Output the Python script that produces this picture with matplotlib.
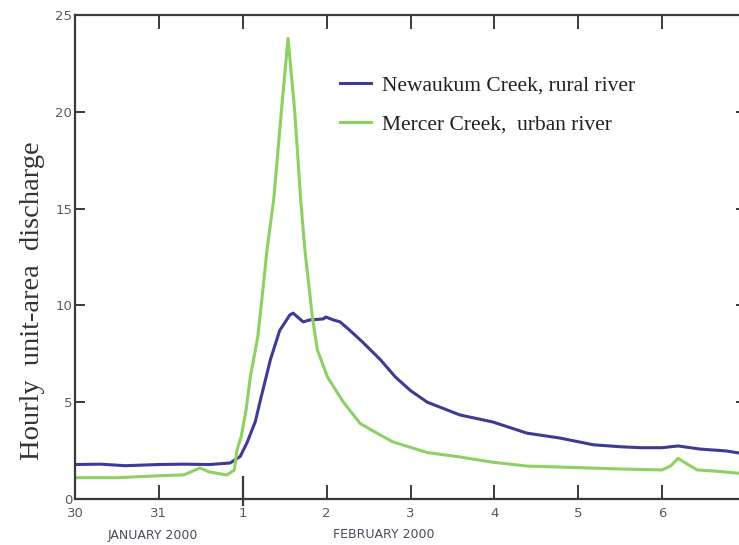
import matplotlib as mpl
import matplotlib.pyplot as plt
import numpy as np

# Time in days after 30 January 2000, 00:00
rural_days = [0.0, 0.3, 0.6, 0.99, 1.3, 1.6, 1.85, 1.97, 2.05, 2.15, 2.21, 2.33,
              2.44, 2.56, 2.60, 2.72, 2.80, 2.96, 2.99, 3.08, 3.16, 3.28, 3.43,
              3.64, 3.82, 4.0, 4.2, 4.59, 4.98, 5.39, 5.78, 6.18, 6.5, 6.74,
              7.0, 7.19, 7.45, 7.77, 7.95]
rural_flow = [1.78, 1.8, 1.72, 1.78, 1.8, 1.78, 1.86, 2.2, 2.9, 4.0, 5.1, 7.2,
              8.7, 9.5, 9.6, 9.15, 9.25, 9.3, 9.4, 9.25, 9.15, 8.7, 8.1,
              7.2, 6.3, 5.6, 5.0, 4.34, 3.98, 3.4, 3.15, 2.8, 2.7, 2.65,
              2.65, 2.74, 2.58, 2.48, 2.35]

urban_days = [0.0, 0.5, 1.0, 1.3, 1.49, 1.6, 1.81, 1.9, 1.93, 1.98, 2.04, 2.09,
              2.18, 2.24, 2.29, 2.37, 2.46, 2.54, 2.62, 2.69, 2.74, 2.83, 2.89,
              3.01, 3.2, 3.4, 3.64, 3.79, 4.2, 4.59, 4.98, 5.39, 5.78, 6.5, 7.0,
              7.1, 7.19, 7.3, 7.42, 7.6, 7.95]
urban_flow = [1.1, 1.1, 1.2, 1.25, 1.6, 1.4, 1.24, 1.5, 2.5, 3.2, 4.6, 6.3,
              8.4, 10.8, 12.9, 15.5, 20.0, 23.8, 20.0, 15.5, 12.9, 9.4, 7.7,
              6.3, 5.0, 3.9, 3.3, 2.95, 2.4, 2.17, 1.9, 1.7, 1.65, 1.55, 1.5,
              1.7, 2.1, 1.8, 1.5, 1.45, 1.32]

day_labels = ["30", "31", "1", "2", "3", "4", "5", "6"]
y_ticks = [0, 5, 10, 15, 20, 25]

RURAL_COLOR = "#3f3a92"
URBAN_COLOR = "#8fd064"
SPINE_COLOR = "#3a3a3a"
TICK_TEXT = "#5a5a5a"

mpl.rcParams.update({"font.family": ["Liberation Sans Narrow", "DejaVu Sans"]})

fig = plt.figure(figsize=(7.39, 5.45), dpi=100)
W, H = 739, 545
ax = fig.add_axes([75 / W, 46 / H, (746 - 75) / W, 484 / H])

ax.plot(rural_days, rural_flow, color=RURAL_COLOR, lw=2.2,
        label="Newaukum Creek, rural river")
ax.plot(urban_days, urban_flow, color=URBAN_COLOR, lw=2.2,
        label="Mercer Creek,  urban river")

ax.set_xlim(0, 8)
ax.set_ylim(0, 25)

for spine in ax.spines.values():
    spine.set_color(SPINE_COLOR)
    spine.set_linewidth(1.6)

ax.set_xticks(range(len(day_labels)))
ax.set_xticklabels(day_labels)
ax.set_yticks(y_ticks)
ax.tick_params(axis="both", direction="in", color=SPINE_COLOR, width=1.4,
               labelcolor=TICK_TEXT, labelsize=9.5)
ax.tick_params(axis="x", length=10, top=True, pad=6)
ax.tick_params(axis="y", length=7, right=True, pad=2)
# the Feb 1 tick crosses the axis
ax.xaxis.get_major_ticks()[2].tick1line.set_markersize(0)
ax.plot([2, 2], [-0.3, 1.15], color=SPINE_COLOR, lw=1.6, clip_on=False)

ax.text(153 / W, 10 / H, "JANUARY 2000", transform=fig.transFigure,
        ha="center", va="center", fontsize=9, color="#4a4a5a")
ax.text(384 / W, 10 / H, "FEBRUARY 2000", transform=fig.transFigure,
        ha="center", va="center", fontsize=9, color="#4a4a5a")

ax.set_ylabel("Hourly  unit-area  discharge", family="Liberation Serif",
              fontsize=20.5, color="#333333")
ax.yaxis.set_label_coords(-0.044, 0.41)

leg = ax.legend(loc="upper left", bbox_to_anchor=(0.366, 0.915), frameon=False,
                prop={"family": "Liberation Serif", "size": 15.5},
                handlelength=1.45, handletextpad=0.5, labelspacing=0.9)
for text in leg.get_texts():
    text.set_color("#222222")

fig.savefig("out.png", dpi=100)
